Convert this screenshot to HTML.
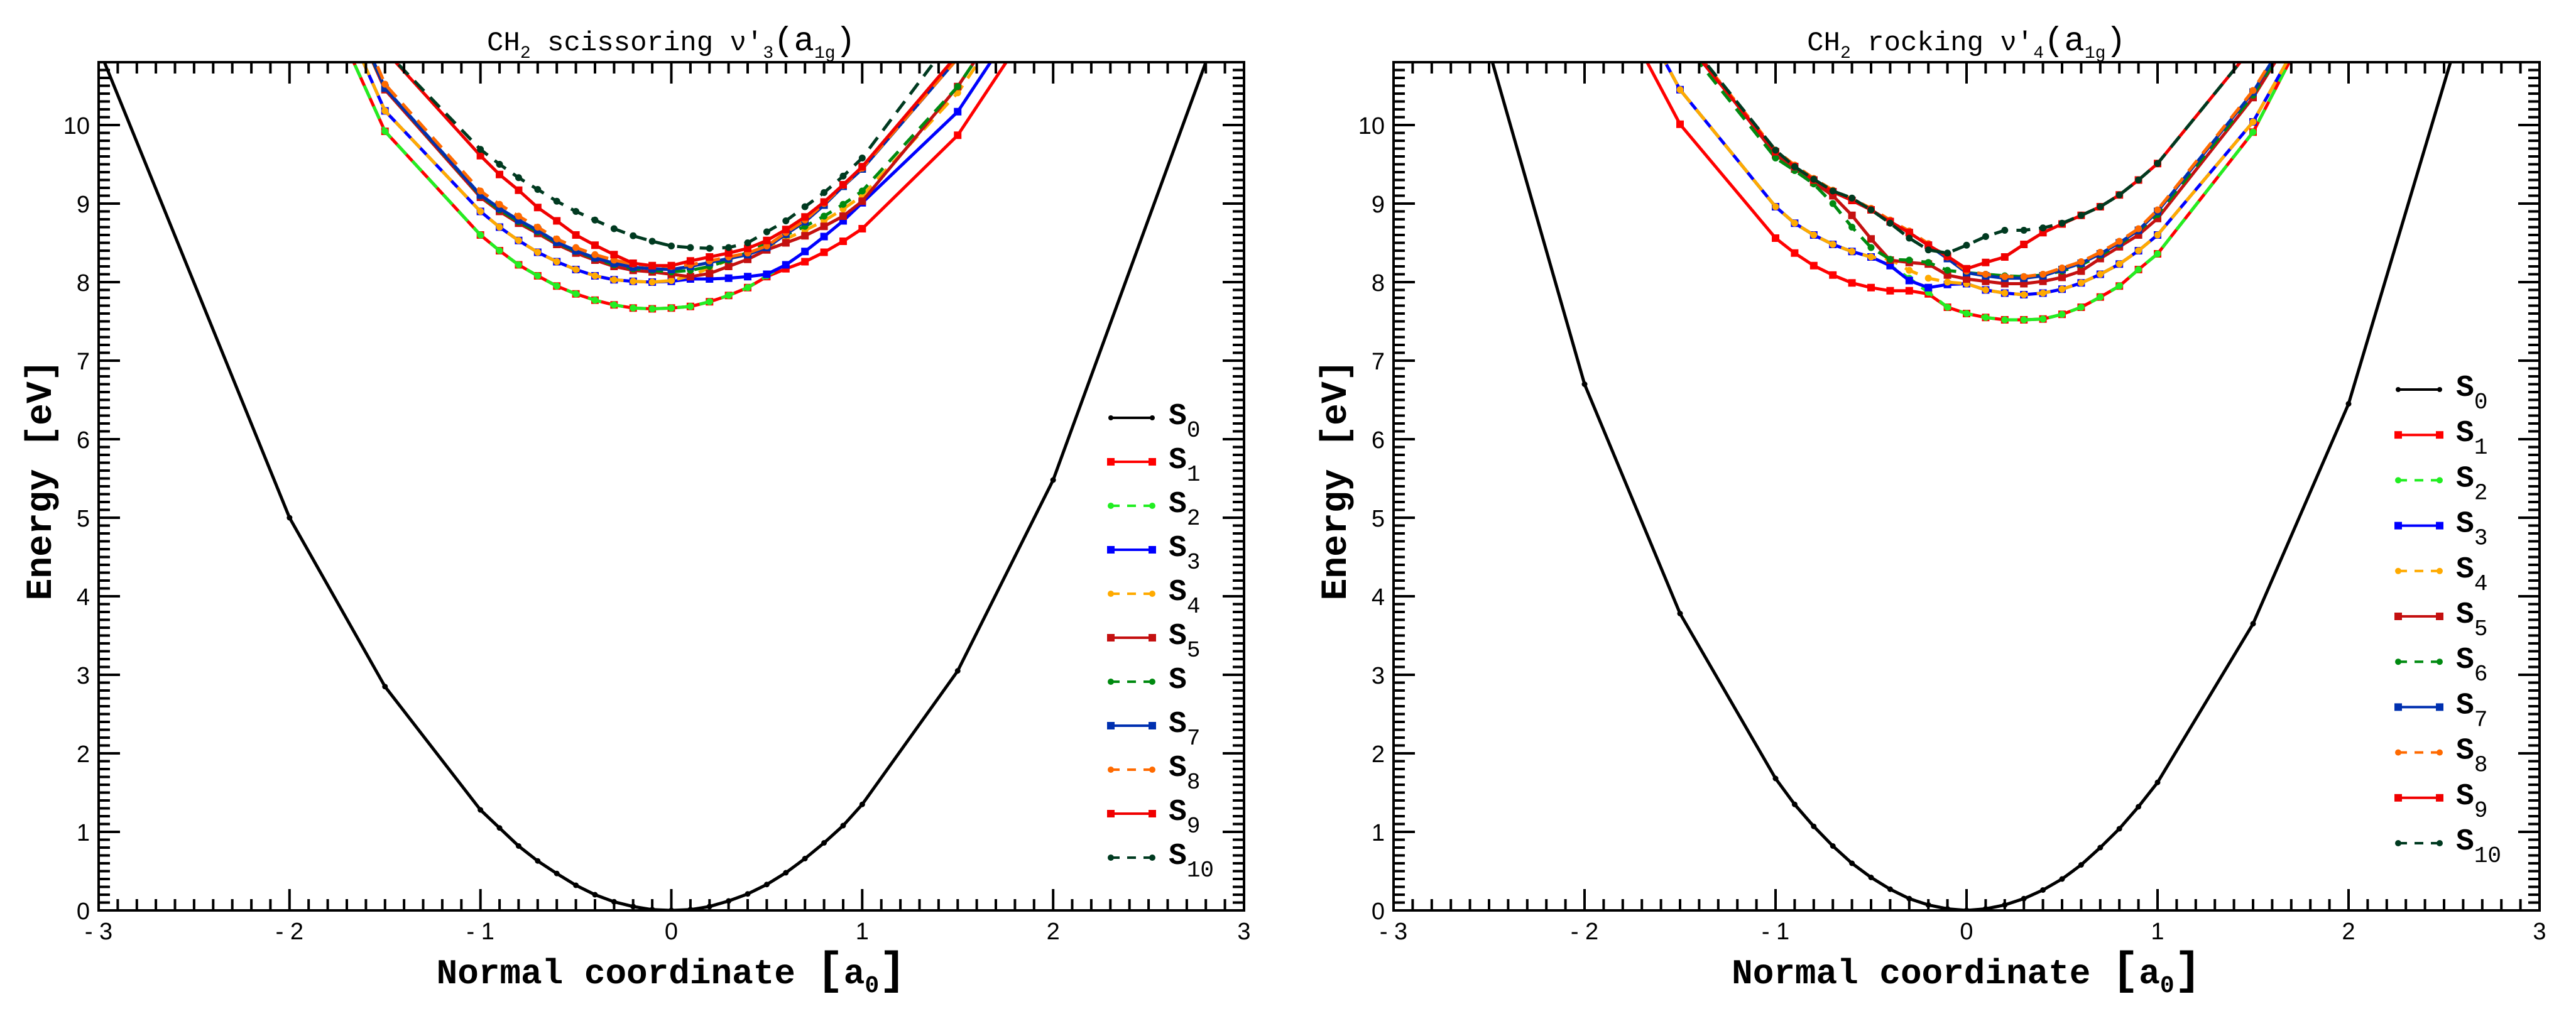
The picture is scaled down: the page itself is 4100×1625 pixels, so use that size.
<!DOCTYPE html>
<html><head><meta charset="utf-8"><style>
html,body{margin:0;padding:0;background:#fff;}
svg{display:block;}
</style></head><body>
<svg id="chart" xmlns="http://www.w3.org/2000/svg" width="4100" height="1625" viewBox="0 0 4100 1625"></svg>
<script>
// ---- data ----
const s0X = [-3,-2,-1.5,-1,-0.9,-0.8,-0.7,-0.6,-0.5,-0.4,-0.3,-0.2,-0.1,0,0.1,0.2,0.3,0.4,0.5,0.6,0.7,0.8,0.9,1.0,1.5,2,3];
const exX = [-2,-1.5,-1,-0.9,-0.8,-0.7,-0.6,-0.5,-0.4,-0.3,-0.2,-0.1,0,0.1,0.2,0.3,0.4,0.5,0.6,0.7,0.8,0.9,1.0,1.5,2];
const stateNames = ["S0","S1","S2","S3","S4","S5","S6","S7","S8","S9","S10"];
const xTicks = [-3,-2,-1,0,1,2,3];
const yTicks = [0,1,2,3,4,5,6,7,8,9,10];

// left panel: CH2 scissoring
const sciS0 = [10.98,5.0,2.85,1.28,1.05,0.82,0.63,0.47,0.32,0.2,0.11,0.05,0.01,0,0.01,0.05,0.12,0.21,0.33,0.48,0.66,0.86,1.08,1.35,3.05,5.48,12.13];
const sciS1 = [12.6,9.92,8.6,8.4,8.22,8.08,7.95,7.85,7.77,7.71,7.67,7.66,7.67,7.69,7.75,7.83,7.93,8.07,8.17,8.26,8.38,8.52,8.68,9.87,11.7];
const sciS2 = [12.6,9.92,8.6,8.4,8.22,8.08,7.95,7.85,7.77,7.71,7.67,7.66,7.67,7.69,7.75,7.83,7.93,8.08,8.22,8.39,8.58,8.78,9.01,10.17,12.0];
const sciS3 = [12.9,10.18,8.9,8.7,8.53,8.38,8.26,8.16,8.08,8.03,8.01,8.0,8.01,8.04,8.04,8.05,8.07,8.10,8.22,8.39,8.58,8.78,9.01,10.17,12.0];
const sciS4 = [12.9,10.18,8.9,8.7,8.53,8.38,8.26,8.16,8.08,8.03,8.01,8.0,8.02,8.08,8.18,8.28,8.37,8.45,8.55,8.66,8.78,8.93,9.1,10.41,12.2];
const sciS5 = [13.2,10.45,9.08,8.9,8.75,8.62,8.48,8.37,8.28,8.2,8.15,8.13,8.1,8.07,8.11,8.2,8.29,8.41,8.5,8.59,8.71,8.84,9.03,10.49,12.3];
const sciS6 = [13.2,10.47,9.1,8.92,8.77,8.64,8.5,8.39,8.3,8.22,8.17,8.15,8.13,8.15,8.2,8.28,8.38,8.49,8.6,8.71,8.84,8.99,9.16,10.49,12.3];
const sciS7 = [13.3,10.47,9.11,8.94,8.79,8.66,8.51,8.4,8.31,8.24,8.19,8.17,8.16,8.2,8.25,8.3,8.35,8.44,8.61,8.77,8.98,9.22,9.44,10.85,12.6];
const sciS8 = [13.4,10.52,9.16,8.99,8.84,8.7,8.55,8.44,8.35,8.28,8.23,8.21,8.2,8.22,8.27,8.32,8.37,8.46,8.63,8.79,9.0,9.23,9.45,10.85,12.6];
const sciS9 = [13.6,10.95,9.61,9.37,9.17,8.95,8.78,8.6,8.47,8.35,8.24,8.21,8.21,8.27,8.32,8.37,8.43,8.53,8.67,8.83,9.02,9.24,9.47,10.9,12.7];
const sciS10 = [13.6,10.95,9.69,9.5,9.33,9.18,9.03,8.9,8.79,8.68,8.59,8.52,8.46,8.44,8.43,8.44,8.5,8.64,8.78,8.96,9.14,9.35,9.58,11.2,13.0];

// right panel: CH2 rocking
const rocS0 = [15.2,6.7,3.78,1.68,1.35,1.07,0.82,0.6,0.42,0.27,0.15,0.07,0.02,0,0.02,0.07,0.15,0.26,0.4,0.58,0.8,1.04,1.32,1.63,3.65,6.45,14.6];
const rocS1 = [12.3,10.01,8.56,8.37,8.21,8.09,7.99,7.93,7.89,7.89,7.85,7.68,7.6,7.55,7.52,7.52,7.53,7.59,7.68,7.81,7.95,8.16,8.36,9.91,12.26];
const rocS2 = [12.7,10.45,8.96,8.75,8.6,8.48,8.39,8.32,8.21,8.05,7.87,7.68,7.6,7.55,7.52,7.52,7.53,7.59,7.68,7.81,7.95,8.16,8.36,9.91,12.26];
const rocS3 = [12.7,10.45,8.96,8.75,8.6,8.48,8.39,8.32,8.21,8.02,7.93,7.97,7.98,7.9,7.86,7.84,7.86,7.91,7.99,8.1,8.23,8.4,8.6,10.04,12.2];
const rocS4 = [12.7,10.45,8.96,8.75,8.6,8.48,8.39,8.32,8.29,8.15,8.05,8.0,7.98,7.9,7.86,7.84,7.86,7.91,7.99,8.1,8.23,8.4,8.6,10.04,12.2];
const rocS5 = [13.4,11.2,9.62,9.44,9.27,9.1,8.85,8.55,8.28,8.25,8.23,8.09,8.04,8.01,7.98,7.98,8.01,8.06,8.14,8.3,8.45,8.6,8.81,10.35,12.3];
const rocS6 = [13.4,11.1,9.58,9.42,9.25,9.0,8.7,8.44,8.29,8.28,8.25,8.15,8.12,8.1,8.08,8.07,8.09,8.14,8.22,8.34,8.48,8.65,8.86,10.38,12.3];
const rocS7 = [13.4,11.15,9.66,9.47,9.3,9.15,9.04,8.92,8.77,8.63,8.47,8.3,8.12,8.08,8.05,8.05,8.08,8.16,8.24,8.36,8.5,8.66,8.9,10.42,12.4];
const rocS8 = [13.4,11.17,9.68,9.49,9.32,9.17,9.06,8.94,8.79,8.65,8.49,8.32,8.14,8.1,8.07,8.07,8.1,8.18,8.26,8.38,8.52,8.68,8.92,10.44,12.4];
const rocS9 = [13.4,11.15,9.66,9.47,9.3,9.15,9.04,8.92,8.77,8.63,8.47,8.33,8.17,8.25,8.32,8.48,8.63,8.74,8.85,8.96,9.11,9.3,9.51,11.0,13.5];
const rocS10 = [13.5,11.2,9.68,9.47,9.31,9.16,9.07,8.92,8.75,8.56,8.41,8.37,8.47,8.58,8.66,8.66,8.69,8.75,8.85,8.96,9.11,9.3,9.51,11.0,13.5];

// ---- styles (not data) ----
const styles = [
 {c:"#000000", dash:false, m:"dot"},
 {c:"#ff0000", dash:false, m:"sq"},
 {c:"#22ee22", dash:true, m:"dot"},
 {c:"#0000ff", dash:false, m:"sq"},
 {c:"#ffaa00", dash:true, m:"dot"},
 {c:"#c41010", dash:false, m:"sq"},
 {c:"#008a10", dash:true, m:"dot"},
 {c:"#0030b0", dash:false, m:"sq"},
 {c:"#ff6a00", dash:true, m:"dot"},
 {c:"#f00000", dash:false, m:"sq"},
 {c:"#003a20", dash:true, m:"dot"}
];
const NS = "http://www.w3.org/2000/svg";
const svg = document.getElementById("chart");
function mk(tag, attrs, parent){ const e=document.createElementNS(NS,tag); for(const k in attrs) e.setAttribute(k,attrs[k]); (parent||svg).appendChild(e); return e; }

const YTOP = 99, YBOT = 1449, EMAX = 10.8;
function drawPanel(p){
  const g = mk("g",{});
  
  
  const L=p.left, R=p.right;
  const xs = v => L + (v+3)/6*(R-L);
  const ys = v => YBOT - v/EMAX*(YBOT-YTOP);
  const cid = p.name+"-clip";
  const defs = mk("defs",{},g);
  const cp = mk("clipPath",{id:cid},defs);
  mk("rect",{x:L,y:YTOP,width:R-L,height:YBOT-YTOP},cp);
  // series
  const sg = mk("g",{"clip-path":"url(#"+cid+")"},g);
  p.series.forEach((vals,i)=>{
    const st = styles[i];
    const xv = i===0 ? s0X : exX;
    const sgi = mk("g",{},sg);
    
    
    const pts = vals.map((v,k)=>xs(xv[k]).toFixed(1)+","+ys(v).toFixed(1)).join(" ");
    const pl = mk("polyline",{points:pts,fill:"none",stroke:st.c,"stroke-width":i===0?5:5,"stroke-linejoin":"round"},sgi);
    if(st.dash) pl.setAttribute("stroke-dasharray","22 14");
    vals.forEach((v,k)=>{
      const cx=xs(xv[k]), cy=ys(v);
      let m;
      if(st.m==="sq") m=mk("rect",{x:cx-6,y:cy-6,width:12,height:12,fill:st.c},sgi);
      else m=mk("circle",{cx:cx,cy:cy,r:i===0?4.5:5.5,fill:st.c},sgi);
      
      
    });
  });
  // frame & ticks
  const fr = mk("rect",{x:L,y:YTOP,width:R-L,height:YBOT-YTOP,fill:"none",stroke:"#000","stroke-width":4},g);
  
  
  let d="";
  for(let k=-30;k<=30;k++){
    const x=xs(k/10), len=(k%10===0)?34:18;
    d+=`M${x.toFixed(1)},${YBOT}v${-len}M${x.toFixed(1)},${YTOP}v${len}`;
  }
  for(let k=0;k<=108;k++){
    const y=ys(k/10), len=(k%10===0)?34:18;
    d+=`M${L},${y.toFixed(1)}h${len}M${R},${y.toFixed(1)}h${-len}`;
  }
  const tk = mk("path",{d:d,stroke:"#000","stroke-width":4,fill:"none"},g);
  
  
  xTicks.forEach(v=>{
    const t=mk("text",{x:xs(v),y:1495,"text-anchor":"middle","font-family":"Liberation Sans, sans-serif","font-size":38},g);
    t.textContent = v<0 ? "- "+(-v) : String(v);
    
    
  });
  yTicks.forEach(v=>{
    const t=mk("text",{x:L-14,y:ys(v)+14,"text-anchor":"end","font-family":"Liberation Sans, sans-serif","font-size":38},g);
    t.textContent = String(v);
    
    
  });
  // title
  const cx=(L+R)/2;
  const tt = mk("text",{x:cx,y:80,"text-anchor":"middle","font-family":"Liberation Mono, monospace","font-size":44},g);
  
  
  tt.innerHTML = 'CH<tspan font-size="28" dy="12">2</tspan><tspan dy="-12"> '+p.mode+' ν′</tspan><tspan font-size="28" dy="12">'+p.idx+'</tspan><tspan dy="-12" font-size="54">(a</tspan><tspan font-size="28" dy="12">1g</tspan><tspan dy="-12" font-size="54">)</tspan>';
  // axis titles
  const xl = mk("text",{x:cx,y:1565,"text-anchor":"middle","font-family":"Liberation Mono, monospace","font-size":56,"font-weight":"bold"},g);
  
  
  xl.innerHTML = 'Normal coordinate <tspan font-size="72">[</tspan>a<tspan font-size="38" dy="14">0</tspan><tspan dy="-14" font-size="72">]</tspan>';
  const yl = mk("text",{x:0,y:0,"text-anchor":"middle","font-family":"Liberation Mono, monospace","font-size":58,"font-weight":"bold",transform:`translate(${L-76},${(YTOP+YBOT)/2-10}) rotate(-90)`},g);
  
  
  yl.textContent = "Energy [eV]";
  // legend
  const lg = mk("g",{},g);
  
  
  stateNames.forEach((n,i)=>{
    const st=styles[i];
    const y=p.legY0 + i*p.legDy;
    const x1=p.legX, x2=p.legX+66;
    const eg = mk("g",{},lg);
    
    
    const ln=mk("line",{x1:x1,y1:y,x2:x2,y2:y,stroke:st.c,"stroke-width":4},eg);
    if(st.dash) ln.setAttribute("stroke-dasharray","14 12");
    [x1,x2].forEach(xx=>{
      if(st.m==="sq") mk("rect",{x:xx-6,y:y-6,width:12,height:12,fill:st.c},eg);
      else mk("circle",{cx:xx,cy:y,r:i===0?4:5,fill:st.c},eg);
    });
    const t=mk("text",{x:x2+26,y:y+10,"font-family":"Liberation Mono, monospace","font-size":48,"font-weight":"bold"},eg);
    const sub = (p.noSub6 && i===6) ? "" : n.slice(1);
    t.innerHTML = 'S<tspan font-size="36" font-weight="normal" dy="20">'+sub+'</tspan>';
  });
}

drawPanel({name:"scissoring-panel", left:157, right:1980, mode:"scissoring", idx:"3",
  series:[sciS0,sciS1,sciS2,sciS3,sciS4,sciS5,sciS6,sciS7,sciS8,sciS9,sciS10],
  legX:1768, legY0:665, legDy:70, noSub6:true});
drawPanel({name:"rocking-panel", left:2218, right:4042, mode:"rocking", idx:"4",
  series:[rocS0,rocS1,rocS2,rocS3,rocS4,rocS5,rocS6,rocS7,rocS8,rocS9,rocS10],
  legX:3817, legY0:620, legDy:72.2, noSub6:false});
</script>
</body></html>
